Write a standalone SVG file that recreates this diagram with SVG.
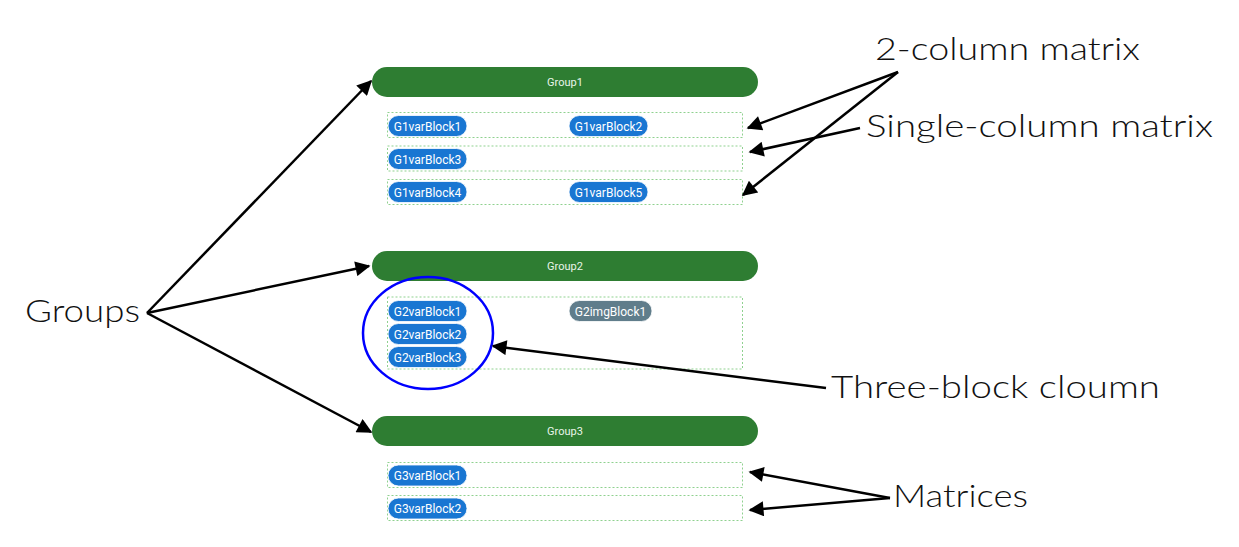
<svg xmlns="http://www.w3.org/2000/svg" width="1239" height="547" viewBox="0 0 1239 547">
<style>
.bar{fill:#2e7d32}
.barT{font-family:Roboto,"Liberation Sans",sans-serif;font-size:11px;fill:#e8f5e9;text-anchor:middle}
.mx{fill:none;stroke:#8fd18f;stroke-width:1;stroke-dasharray:2,2}
.blk{fill:#1976d2;stroke:#ffffff;stroke-width:0.8}
.img{fill:#607d8b;stroke:#ffffff;stroke-width:0.8}
.bt{font-family:Roboto,"Liberation Sans",sans-serif;font-size:12px;fill:#ffffff;text-anchor:middle}
.ann{font-family:Lato,"Noto Sans",sans-serif;font-weight:300;font-size:32px;fill:#111111}
.arr{fill:none;stroke:#000000;stroke-width:2.5;marker-end:url(#ah)}
</style>
<defs>
<marker id="ah" viewBox="0 0 10 10" refX="9" refY="5" markerWidth="7" markerHeight="6" markerUnits="strokeWidth" orient="auto">
<path d="M0,0 L10,5 L0,10 z" fill="#000000"/>
</marker>
</defs>
<rect width="1239" height="547" fill="#ffffff"/>

<g id="group1">
<rect class="bar" x="372" y="67" width="386" height="30" rx="15"/>
<text class="barT" x="565" y="86">Group1</text>
</g>
<g id="matrix1a">
<rect class="mx" x="387.5" y="112.5" width="355" height="25"/>
<g id="G1varBlock1"><rect class="blk" x="388" y="115.5" width="79" height="21" rx="10.5"/><text class="bt" x="427.5" y="130.5">G1varBlock1</text></g>
<g id="G1varBlock2"><rect class="blk" x="569" y="115.5" width="79" height="21" rx="10.5"/><text class="bt" x="608.5" y="130.5">G1varBlock2</text></g>
</g>
<g id="matrix1b">
<rect class="mx" x="387.5" y="146" width="355" height="25"/>
<g id="G1varBlock3"><rect class="blk" x="388" y="148.5" width="79" height="21" rx="10.5"/><text class="bt" x="427.5" y="163.5">G1varBlock3</text></g>
</g>
<g id="matrix1c">
<rect class="mx" x="387.5" y="179.5" width="355" height="25"/>
<g id="G1varBlock4"><rect class="blk" x="388" y="181.5" width="79" height="21" rx="10.5"/><text class="bt" x="427.5" y="196.5">G1varBlock4</text></g>
<g id="G1varBlock5"><rect class="blk" x="569" y="181.5" width="79" height="21" rx="10.5"/><text class="bt" x="608.5" y="196.5">G1varBlock5</text></g>
</g>

<g id="group2">
<rect class="bar" x="372" y="251" width="386" height="30" rx="15"/>
<text class="barT" x="565" y="270">Group2</text>
</g>
<g id="matrix2">
<rect class="mx" x="387.5" y="297" width="355" height="72"/>
<g id="G2varBlock1"><rect class="blk" x="388" y="300.5" width="79" height="21" rx="10.5"/><text class="bt" x="427.5" y="315.5">G2varBlock1</text></g>
<g id="G2varBlock2"><rect class="blk" x="388" y="323.5" width="79" height="21" rx="10.5"/><text class="bt" x="427.5" y="338.5">G2varBlock2</text></g>
<g id="G2varBlock3"><rect class="blk" x="388" y="346.5" width="79" height="21" rx="10.5"/><text class="bt" x="427.5" y="361.5">G2varBlock3</text></g>
<g id="G2imgBlock1"><rect class="img" x="569" y="300.5" width="83" height="21" rx="10.5"/><text class="bt" x="610.5" y="315.5">G2imgBlock1</text></g>
</g>
<ellipse id="highlight" cx="428" cy="333" rx="65" ry="56" fill="none" stroke="#0000ff" stroke-width="2.5"/>

<g id="group3">
<rect class="bar" x="372" y="416" width="386" height="30" rx="15"/>
<text class="barT" x="565" y="435">Group3</text>
</g>
<g id="matrix3a">
<rect class="mx" x="387.5" y="462.5" width="355" height="25"/>
<g id="G3varBlock1"><rect class="blk" x="388" y="465" width="79" height="21" rx="10.5"/><text class="bt" x="427.5" y="480">G3varBlock1</text></g>
</g>
<g id="matrix3b">
<rect class="mx" x="387.5" y="495.5" width="355" height="25"/>
<g id="G3varBlock2"><rect class="blk" x="388" y="498" width="79" height="21" rx="10.5"/><text class="bt" x="427.5" y="513">G3varBlock2</text></g>
</g>

<g id="labels">
<text class="ann" x="875" y="60" textLength="265" lengthAdjust="spacingAndGlyphs">2-column matrix</text>
<text class="ann" x="866" y="137" textLength="347" lengthAdjust="spacingAndGlyphs">Single-column matrix</text>
<text class="ann" x="25" y="322" textLength="115" lengthAdjust="spacingAndGlyphs">Groups</text>
<text class="ann" x="831" y="398" textLength="329" lengthAdjust="spacingAndGlyphs">Three-block cloumn</text>
<text class="ann" x="893" y="507" textLength="135" lengthAdjust="spacingAndGlyphs">Matrices</text>
</g>

<g id="connectors">
<line class="arr" x1="147" y1="313" x2="371" y2="81"/>
<line class="arr" x1="147" y1="313" x2="369" y2="266"/>
<line class="arr" x1="147" y1="313" x2="371" y2="432"/>
<line class="arr" x1="898" y1="72" x2="748" y2="128"/>
<line class="arr" x1="898" y1="72" x2="743" y2="195"/>
<line class="arr" x1="860" y1="128" x2="750" y2="152"/>
<line class="arr" x1="826" y1="388" x2="493" y2="346"/>
<line class="arr" x1="890" y1="498" x2="750" y2="472"/>
<line class="arr" x1="890" y1="498" x2="750" y2="510"/>
</g>
</svg>
